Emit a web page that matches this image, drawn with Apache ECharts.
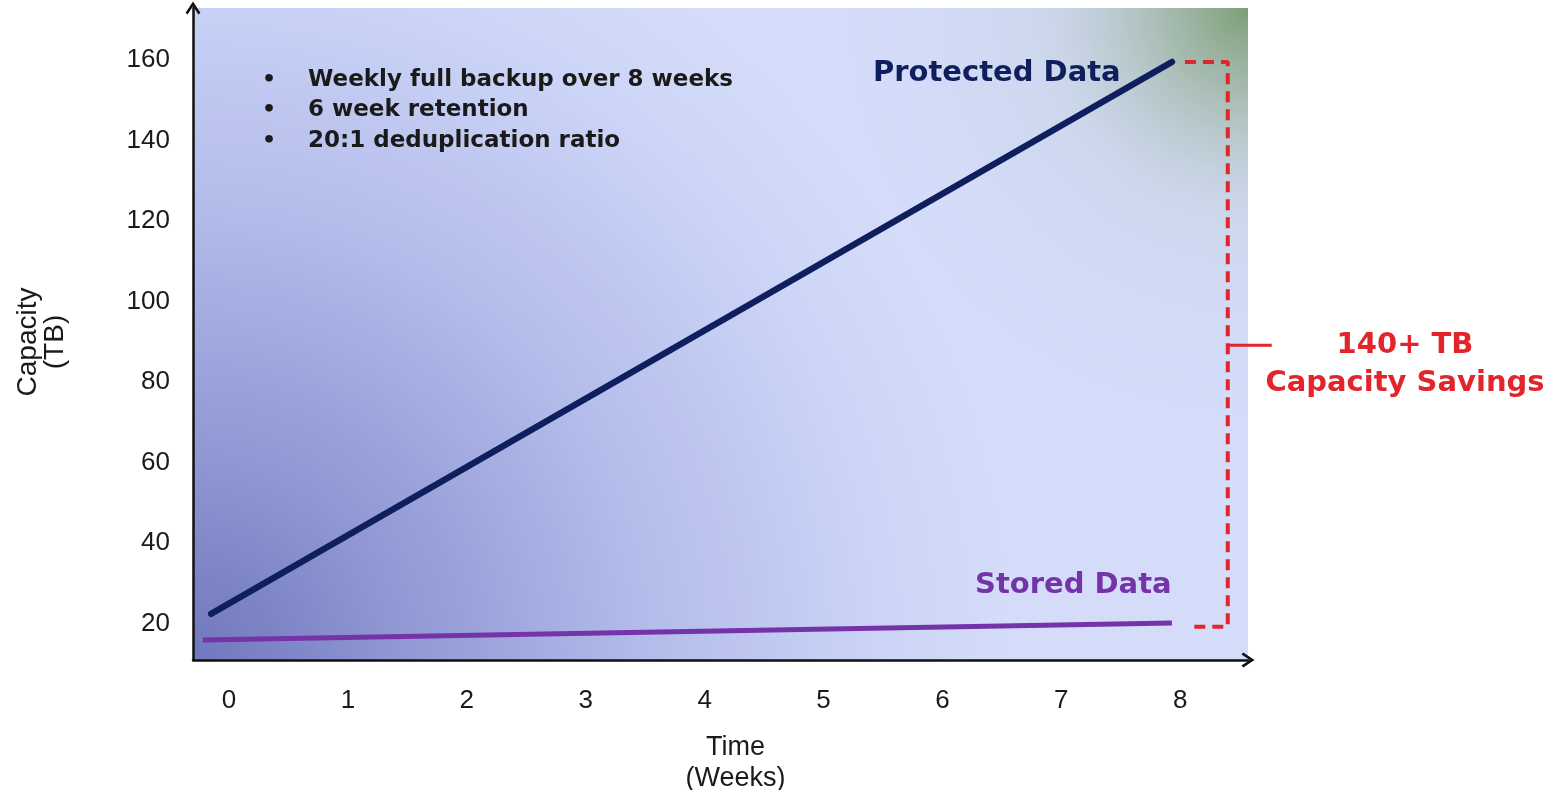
<!DOCTYPE html>
<html>
<head>
<meta charset="utf-8">
<script src="https://cdn.jsdelivr.net/npm/echarts@6/dist/echarts.min.js"></script>
<style>html,body{margin:0;padding:0;background:#fff}#c{width:1560px;height:790px}</style>
</head>
<body>
<div id="c"></div>
<script>
// ---- data ----
var weekTicks = [0, 1, 2, 3, 4, 5, 6, 7, 8];
var capacityTicks = [20, 40, 60, 80, 100, 120, 140, 160];
var protectedWeeks = [-0.15, 7.93];
var protectedTB = [22.5, 159.5];
var storedWeeks = [-0.22, 7.93];
var storedTB = [16.0, 20.2];
// savings bracket (annotation) in data units
var bracketWeeks = [8.04, 8.40, 8.40, 8.10];
var bracketTB = [159.5, 159.5, 19.3, 19.3];
var bracketTickWeeks = [8.40, 8.77];
var bracketTickTB = [89.2, 89.2];
var notes = ['Weekly full backup over 8 weeks', '6 week retention', '20:1 deduplication ratio'];

var X_MIN = -0.303, X_MAX = 8.57, Y_MIN = 11.03, Y_MAX = 172.9;

function pairs(xs, ys) { return xs.map(function (x, i) { return [x, ys[i]]; }); }

var chevron = 'path://M5,0 L10,7.6 L8.7,8.8 L5,3.2 L1.3,8.8 L0,7.6 Z';
var axisFont = 'Liberation Sans, Arial, sans-serif';
var boldFont = 'DejaVu Sans, Verdana, sans-serif';
var RED = '#e3242b';

var chart = echarts.init(document.getElementById('c'));
var noteTexts = [];
notes.forEach(function (t, i) {
  noteTexts.push({ type: 'text', z: 10, x: 262, y: 80 + i * 30.5, style: { text: '•', font: 'bold 22px ' + boldFont, fill: '#1a1a1a', verticalAlign: 'middle' } });
  noteTexts.push({ type: 'text', z: 10, x: 308, y: 80 + i * 30.5, style: { text: t, font: 'bold 23px ' + boldFont, fill: '#1a1a1a', verticalAlign: 'middle' } });
});

chart.setOption({
  animation: false,
  grid: {
    left: 193, right: 312, top: 8, bottom: 130, show: true, borderWidth: 0,
    outerBoundsMode: 'none', containLabel: false,
    backgroundColor: {
      type: 'radial', x: 0, y: 1, r: 1.25,
      colorStops: [
        { offset: 0, color: '#7077bd' },
        { offset: 0.25, color: '#9097d3' },
        { offset: 0.55, color: '#b3bbea' },
        { offset: 0.85, color: '#ccd5f7' },
        { offset: 1, color: '#d4dcf9' }
      ]
    }
  },
  xAxis: {
    type: 'value', min: X_MIN, max: X_MAX,
    name: 'Time\n(Weeks)', nameLocation: 'middle', nameGap: 72,
    nameTextStyle: { fontFamily: axisFont, fontSize: 27, color: '#1a1a1a', lineHeight: 31, padding: [0, 0, 0, 30] },
    axisLine: { onZero: false, symbol: ['none', chevron], symbolSize: [20, 13], lineStyle: { color: '#111', width: 2.5 } },
    axisTick: { show: false },
    splitLine: { show: false },
    axisLabel: { customValues: weekTicks, margin: 28, fontFamily: axisFont, fontSize: 26, color: '#1a1a1a' }
  },
  yAxis: {
    type: 'value', min: Y_MIN, max: Y_MAX,
    name: 'Capacity\n(TB)', nameLocation: 'middle', nameGap: 124, nameRotate: 90,
    nameTextStyle: { fontFamily: axisFont, fontSize: 28, color: '#1a1a1a', lineHeight: 27, padding: [0, 16, 0, 0] },
    axisLine: { onZero: false, symbol: ['none', chevron], symbolSize: [20, 13], lineStyle: { color: '#111', width: 2.5 } },
    axisTick: { show: false },
    splitLine: { show: false },
    axisLabel: { customValues: capacityTicks, margin: 23, fontFamily: axisFont, fontSize: 26, color: '#1a1a1a' }
  },
  series: [
    { type: 'line', name: 'Stored Data', data: pairs(storedWeeks, storedTB), showSymbol: false, symbol: 'none', z: 2,
      lineStyle: { color: '#7433a8', width: 5 },
      markArea: {
        silent: true, label: { show: false },
        itemStyle: {
          color: {
            type: 'radial', x: 1, y: 0, r: 0.62,
            colorStops: [
              { offset: 0, color: 'rgba(125,158,118,1)' },
              { offset: 0.2, color: 'rgba(150,175,150,0.75)' },
              { offset: 0.5, color: 'rgba(190,205,210,0.35)' },
              { offset: 1, color: 'rgba(210,218,248,0)' }
            ]
          }
        },
        data: [[{ coord: [X_MIN, Y_MAX] }, { coord: [X_MAX, Y_MIN] }]]
      } },
    { type: 'line', name: 'Protected Data', data: pairs(protectedWeeks, protectedTB), showSymbol: false, symbol: 'none', z: 3,
      lineStyle: { color: '#0f1f5e', width: 6.5, cap: 'round' } },
    { type: 'line', name: 'bracket', data: pairs(bracketWeeks, bracketTB), showSymbol: false, symbol: 'none', clip: false, silent: true, z: 3,
      lineStyle: { color: RED, width: 4, type: [11, 7] } }
  ],
  graphic: noteTexts.concat([
    { type: 'text', z: 10, x: 873, y: 73, style: { text: 'Protected Data', font: 'bold 29px ' + boldFont, fill: '#0f1f5e', verticalAlign: 'middle' } },
    { type: 'text', z: 10, x: 975, y: 585, style: { text: 'Stored Data', font: 'bold 29px ' + boldFont, fill: '#7433a8', verticalAlign: 'middle' } },
    { type: 'text', z: 10, x: 1405, y: 345, style: { text: '140+ TB', font: 'bold 29px ' + boldFont, fill: RED, align: 'center', verticalAlign: 'middle' } },
    { type: 'text', z: 10, x: 1405, y: 383, style: { text: 'Capacity Savings', font: 'bold 29px ' + boldFont, fill: RED, align: 'center', verticalAlign: 'middle' } }
  ])
});

// bracket tick, positioned through the chart's own scales
var p0 = chart.convertToPixel({ gridIndex: 0 }, [bracketTickWeeks[0], bracketTickTB[0]]);
var p1 = chart.convertToPixel({ gridIndex: 0 }, [bracketTickWeeks[1], bracketTickTB[1]]);
chart.setOption({
  graphic: [{ id: 'bracketTick', type: 'line', z: 10, shape: { x1: p0[0], y1: p0[1], x2: p1[0], y2: p1[1] }, style: { stroke: RED, lineWidth: 3 } }]
});
</script>
</body>
</html>
